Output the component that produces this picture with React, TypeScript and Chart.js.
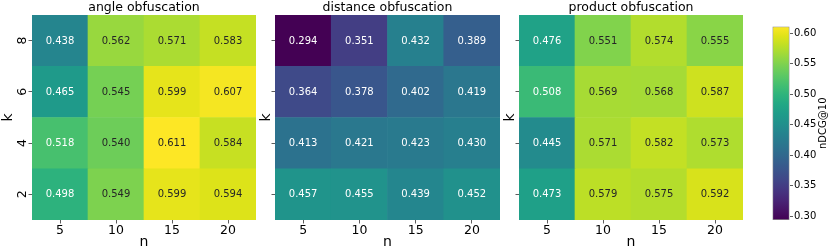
import React, { useEffect, useRef } from "react";
import { Chart, registerables } from "chart.js";

Chart.register(...registerables);

const FONT = '"DejaVu Sans", "Liberation Sans", sans-serif';

// categories
const nLabels = ["5", "10", "15", "20"];
const kLabels = ["2", "4", "6", "8"]; // bottom to top

// values: rows in k order (2, 4, 6, 8), columns in n order (5, 10, 15, 20)
const angleK2 = [0.498, 0.549, 0.599, 0.594];
const angleK4 = [0.518, 0.54, 0.611, 0.584];
const angleK6 = [0.465, 0.545, 0.599, 0.607];
const angleK8 = [0.438, 0.562, 0.571, 0.583];

const distanceK2 = [0.457, 0.455, 0.439, 0.452];
const distanceK4 = [0.413, 0.421, 0.423, 0.43];
const distanceK6 = [0.364, 0.378, 0.402, 0.419];
const distanceK8 = [0.294, 0.351, 0.432, 0.389];

const productK2 = [0.473, 0.579, 0.575, 0.592];
const productK4 = [0.445, 0.571, 0.582, 0.573];
const productK6 = [0.508, 0.569, 0.568, 0.587];
const productK8 = [0.476, 0.551, 0.574, 0.555];

const panelTitles = ["angle obfuscation", "distance obfuscation", "product obfuscation"];
const colorbarTicks = [0.3, 0.35, 0.4, 0.45, 0.5, 0.55, 0.6];
const colorbarLabel = "nDCG@10";
const xTitle = "n";
const yTitle = "k";

const panels = [
  [angleK2, angleK4, angleK6, angleK8],
  [distanceK2, distanceK4, distanceK6, distanceK8],
  [productK2, productK4, productK6, productK8],
];

const allValues = panels.flat(2);
const vmin = Math.min(...allValues);
const vmax = Math.max(...allValues);

// viridis colormap stops
const VIRIDIS = [
  "#440154", "#471365", "#482475", "#463480", "#414487", "#3b528b", "#355f8d",
  "#2f6c8e", "#2a788e", "#25848e", "#21918c", "#1e9c89", "#22a884", "#2fb47c",
  "#44bf70", "#5ec962", "#7ad151", "#9bd93c", "#bddf26", "#dfe318", "#fde725",
];
const hexToRgb = (h: string) => [
  parseInt(h.slice(1, 3), 16),
  parseInt(h.slice(3, 5), 16),
  parseInt(h.slice(5, 7), 16),
];
const VIR_RGB = VIRIDIS.map(hexToRgb);

function viridisRgb(t: number): number[] {
  const c = Math.max(0, Math.min(1, t)) * (VIR_RGB.length - 1);
  const i = Math.min(Math.floor(c), VIR_RGB.length - 2);
  const f = c - i;
  const a = VIR_RGB[i];
  const b = VIR_RGB[i + 1];
  return [0, 1, 2].map((k) => a[k] + (b[k] - a[k]) * f);
}
const norm = (v: number) => (v - vmin) / (vmax - vmin);
const cellColor = (v: number) => {
  const [r, g, b] = viridisRgb(norm(v));
  return `rgb(${Math.round(r)},${Math.round(g)},${Math.round(b)})`;
};
function textColor(v: number) {
  const lin = viridisRgb(norm(v)).map((c) => {
    const s = c / 255;
    return s <= 0.03928 ? s / 12.92 : Math.pow((s + 0.055) / 1.055, 2.4);
  });
  const lum = 0.2126 * lin[0] + 0.7152 * lin[1] + 0.0722 * lin[2];
  return lum > 0.408 ? "#262626" : "#ffffff";
}

const annotatePlugin = {
  id: "annotate",
  afterDatasetsDraw(chart: any) {
    const ctx = chart.ctx;
    ctx.save();
    ctx.font = `10px ${FONT}`;
    ctx.textAlign = "center";
    ctx.textBaseline = "middle";
    chart.data.datasets.forEach((ds: any, di: number) => {
      const meta = chart.getDatasetMeta(di);
      meta.data.forEach((el: any, j: number) => {
        const { x, y, base } = el.getProps(["x", "y", "base"], true);
        const v = ds.data[j].v;
        ctx.fillStyle = textColor(v);
        ctx.fillText(v.toFixed(3), x, (y + base) / 2 + 0.5);
      });
    });
    ctx.restore();
  },
};

const panelTextPlugin = {
  id: "panelText",
  afterDraw(chart: any, _args: any, opts: any) {
    const ctx = chart.ctx;
    const area = chart.chartArea;
    ctx.save();
    ctx.fillStyle = "#000";
    ctx.textAlign = "center";
    // panel title centred over the plot area
    ctx.font = `12.5px ${FONT}`;
    ctx.textBaseline = "alphabetic";
    ctx.fillText(opts.title, (area.left + area.right) / 2, area.top - 4);
    if (opts.showY) {
      const ys = chart.scales.y;
      ctx.font = `12.5px ${FONT}`;
      ctx.textBaseline = "middle";
      kLabels.forEach((k, i) => {
        const py = ys.getPixelForValue(i + 0.5);
        ctx.save();
        ctx.translate(area.left - 9.5, py);
        ctx.rotate(-Math.PI / 2);
        ctx.fillText(k, 0, 0);
        ctx.restore();
      });
    }
    ctx.restore();
  },
};

function makePanel(canvas: HTMLCanvasElement, rows: number[][], title: string, yW: number, showY: boolean) {
  return new Chart(canvas, {
    type: "bar",
    data: {
      labels: nLabels,
      datasets: rows.map((row, i) => ({
        label: kLabels[i],
        data: row.map((v, j) => ({ x: nLabels[j], y: [i, i + 1], v })) as any,
        backgroundColor: (c: any) => (c.raw ? cellColor(c.raw.v) : "#000"),
        borderWidth: 0,
        barPercentage: 1,
        categoryPercentage: 1,
      })),
    },
    options: {
      animation: false,
      responsive: false,
      layout: { padding: { left: 0, right: 6, top: 15, bottom: 0 } },
      plugins: {
        legend: { display: false },
        tooltip: { enabled: false },
        title: { display: false },
        panelText: { title, showY },
      } as any,
      scales: {
        x: {
          type: "category",
          stacked: true,
          offset: true,
          grid: { offset: false, drawOnChartArea: false, tickLength: 3.5, tickColor: "#333", lineWidth: 0.8 },
          border: { display: false },
          ticks: { color: "#000", font: { family: FONT, size: 12.5 }, padding: 0, maxRotation: 0 },
          title: { display: true, text: xTitle, color: "#000", font: { family: FONT, size: 14 }, padding: { top: 0, bottom: 1 } },
          afterFit: (s: any) => {
            s.height = 32;
          },
        },
        y: {
          type: "linear",
          stacked: false,
          min: 0,
          max: 4,
          afterBuildTicks: (s: any) => {
            s.ticks = kLabels.map((_, i) => ({ value: i + 0.5 }));
          },
          grid: { drawOnChartArea: false, tickLength: 3.5, tickColor: "#333", lineWidth: 0.8 },
          border: { display: false },
          ticks: { display: false },
          title: { display: true, text: yTitle, color: "#000", font: { family: FONT, size: 14 }, padding: 0 },
          afterFit: (s: any) => {
            s.width = yW;
          },
        },
      },
    },
    plugins: [annotatePlugin, panelTextPlugin],
  } as any);
}

const colorbarLabelPlugin = {
  id: "cbLabel",
  afterDraw(chart: any) {
    const ctx = chart.ctx;
    const area = chart.chartArea;
    ctx.save();
    ctx.font = `10px ${FONT}`;
    ctx.fillStyle = "#000";
    ctx.textAlign = "center";
    ctx.textBaseline = "middle";
    ctx.translate(63.5, (area.top + area.bottom) / 2);
    ctx.rotate(-Math.PI / 2);
    ctx.fillText(colorbarLabel, 0, 0);
    ctx.restore();
  },
};

function makeColorbar(canvas: HTMLCanvasElement) {
  return new Chart(canvas, {
    type: "bar",
    data: {
      labels: [colorbarLabel],
      datasets: [
        {
          data: [[vmin, vmax]],
          backgroundColor: (c: any) => {
            const chart = c.chart;
            if (!chart.chartArea) return "#888";
            const ys = chart.scales.y;
            const y0 = ys.getPixelForValue(vmin);
            const y1 = ys.getPixelForValue(vmax);
            const g = chart.ctx.createLinearGradient(0, y0, 0, y1);
            VIRIDIS.forEach((col, i) => g.addColorStop(i / (VIRIDIS.length - 1), col));
            return g;
          },
          borderColor: "#8a8a8a",
          borderWidth: 1,
          borderSkipped: false,
          barPercentage: 1,
          categoryPercentage: 1,
        },
      ],
    },
    options: {
      animation: false,
      responsive: false,
      layout: { padding: { left: 12.5, top: 26.5, bottom: 32, right: 0 } },
      plugins: { legend: { display: false }, tooltip: { enabled: false } },
      scales: {
        x: { display: false, offset: true },
        y: {
          position: "right",
          min: vmin,
          max: vmax,
          afterBuildTicks: (s: any) => {
            s.ticks = colorbarTicks.map((v) => ({ value: v }));
          },
          ticks: {
            color: "#000",
            font: { family: FONT, size: 10 },
            padding: 1,
            callback: (v: any) => Number(v).toFixed(2),
          },
          grid: { drawOnChartArea: false, tickLength: 3.5, tickColor: "#333", lineWidth: 0.8 },
          border: { display: false },
          afterFit: (s: any) => {
            s.width = 41.5;
          },
        },
      },
    },
    plugins: [colorbarLabelPlugin],
  } as any);
}

const layout = [
  { left: 0, yW: 32, width: 262, showY: true },
  { left: 258, yW: 17, width: 248, showY: false },
  { left: 502, yW: 17, width: 247, showY: false },
];

export default function App() {
  const p1 = useRef<HTMLCanvasElement>(null);
  const p2 = useRef<HTMLCanvasElement>(null);
  const p3 = useRef<HTMLCanvasElement>(null);
  const cb = useRef<HTMLCanvasElement>(null);
  const refs = [p1, p2, p3];

  useEffect(() => {
    const charts: Chart[] = [];
    refs.forEach((r, i) => {
      if (r.current) charts.push(makePanel(r.current, panels[i], panelTitles[i], layout[i].yW, layout[i].showY));
    });
    if (cb.current) charts.push(makeColorbar(cb.current));
    return () => charts.forEach((c) => c.destroy());
  }, []);

  return (
    <div style={{ position: "absolute", left: 0, top: 0, width: 831, height: 252, background: "#fff", overflow: "hidden" }}>
      {layout.map((l, i) => (
        <canvas
          key={i}
          ref={refs[i]}
          width={l.width}
          height={252}
          style={{ position: "absolute", left: l.left, top: 0, width: l.width, height: 252 }}
        />
      ))}
      <canvas ref={cb} width={71} height={252} style={{ position: "absolute", left: 760, top: 0, width: 71, height: 252 }} />
    </div>
  );
}
